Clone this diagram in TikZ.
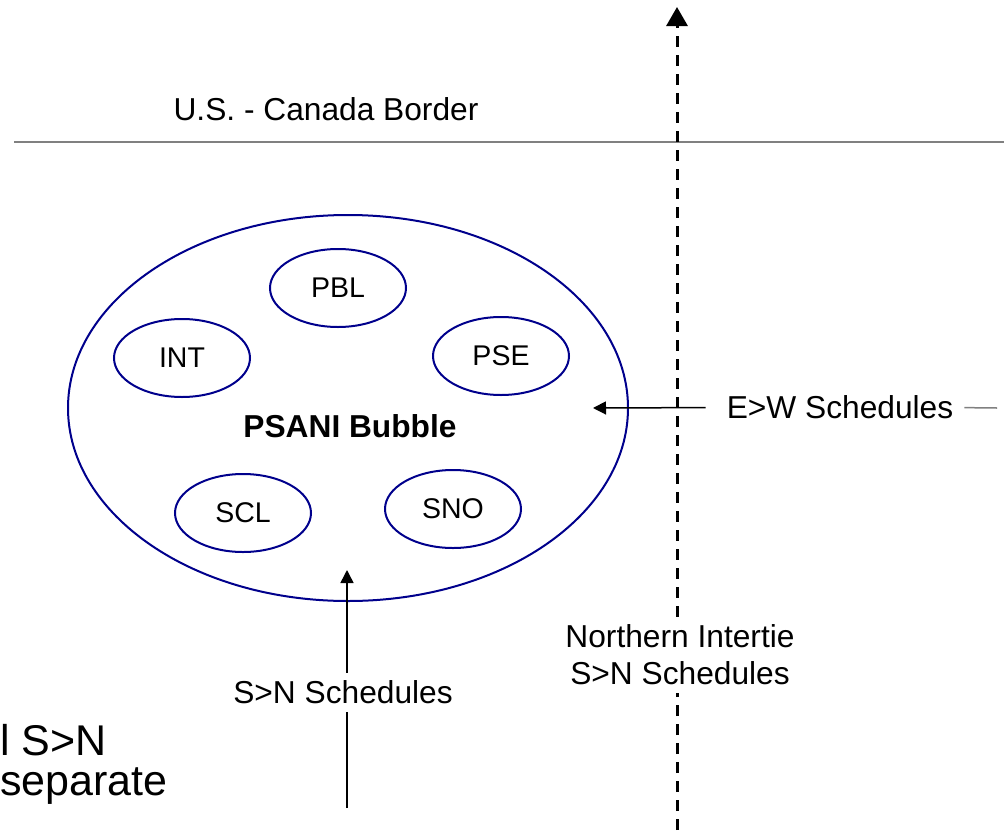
\documentclass[tikz,border=0pt]{standalone}
\usepackage{fontspec}
\setmainfont{Liberation Sans}
\usetikzlibrary{arrows.meta, shapes.geometric}
\definecolor{bubbleblue}{RGB}{0,0,140}
\tikzset{
  maintxt/.style={font=\fontsize{31.7}{37}\selectfont, inner sep=0pt},
  bigtxt/.style={font=\fontsize{43}{42}\selectfont, inner sep=0pt},
  bubble/.style={draw=bubbleblue, line width=2pt, ellipse, inner sep=0pt},
  oval/.style={bubble, minimum width=136pt, minimum height=78pt,
    font=\fontsize{28.5}{34}\selectfont},
  borderline/.style={draw=gray, line width=1.5pt},
  thinline/.style={line width=1.5pt},
  thinarrow/.style={thinline, -{Triangle[width=13pt,length=13pt]}},
  nidash/.style={line width=3pt, dash pattern=on 11pt off 8pt},
  niarrow/.style={nidash, -{Triangle[width=21pt,length=19pt]}}
}
\begin{document}
\begin{tikzpicture}[x=1pt,y=-1pt]
  \useasboundingbox (0,0) rectangle (1004,830);
  % border
  \coordinate (bw) at (14,142);
  \coordinate (be) at (1004,142);
  \draw[borderline] (bw) -- (be);
  \node[maintxt, anchor=base] (border) at (326,120) {U.S. - Canada Border};

  % PSANI bubble
  \node[bubble, minimum width=560pt, minimum height=386pt] (psani) at (348,408) {};
  \node[maintxt, font=\fontsize{31.7}{37}\selectfont\bfseries, anchor=base] (psanitxt) at (350,437) {PSANI Bubble};
  \node[oval] (pbl) at (338,288) {PBL};
  \node[oval] (int) at (182,358) {INT};
  \node[oval] (pse) at (501,356) {PSE};
  \node[oval] (scl) at (243,513) {SCL};
  \node[oval] (sno) at (453,509) {SNO};

  % northern intertie
  \coordinate (nibot) at (677,830);
  \coordinate (nitop) at (677,7);
  \node[maintxt, align=center, inner sep=8pt] (ni) at (680,655) {Northern Intertie\\S>N Schedules};
  \draw[nidash] (nibot) -- (ni.south -| nibot);
  \draw[niarrow] (ni.north -| nitop) -- (nitop);

  % E>W schedules
  \coordinate (ewtip) at (593,408);
  \coordinate (ewtail) at (997,408);
  \node[maintxt] (ew) at (840,407.5) {E>W Schedules};
  \draw[thinarrow, shorten <=21pt] (ew.west) -- (ewtip);
  \draw[thinline, gray, shorten <=11pt] (ew.east) -- (ewtail);

  % S>N schedules
  \coordinate (snbot) at (347,808);
  \coordinate (sntip) at (347,570);
  \node[maintxt, inner sep=8pt] (sn) at (343,692.5) {S>N Schedules};
  \draw[thinline] (snbot) -- (sn.south -| snbot);
  \draw[thinarrow] (sn.north -| sntip) -- (sntip);

  % note at lower left
  \node[bigtxt, align=left, anchor=base west] (note) at (0,795) {l S>N\\[-2pt]separate};
\end{tikzpicture}
\end{document}
